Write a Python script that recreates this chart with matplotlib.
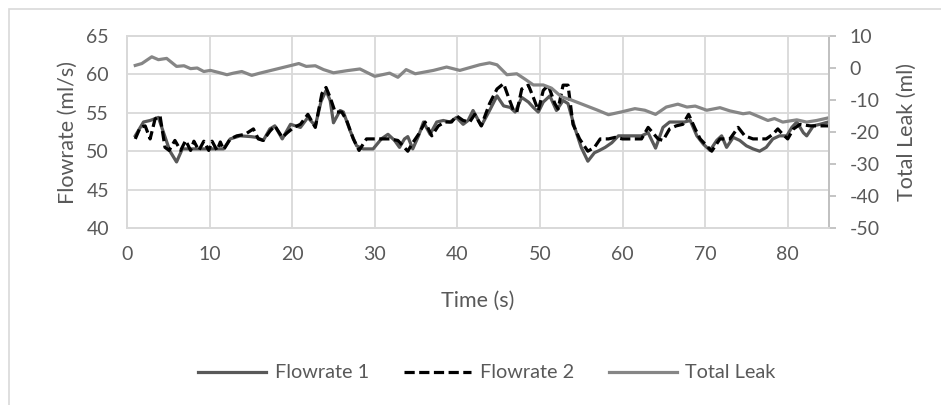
import matplotlib
matplotlib.use("Agg")
import matplotlib.pyplot as plt
from matplotlib.patches import Rectangle

# ---- data ----
t_flow1 = [1.0, 2.0, 2.8, 3.8, 4.4, 5.2, 6.0, 6.7, 7.5, 9.0, 10.5, 11.7, 12.5, 13.7,
           15.0, 15.7, 16.5, 17.3, 17.9, 18.8, 19.8, 21.0, 21.9, 22.8, 23.5, 24.1,
           24.6, 25.0, 25.8, 26.2, 27.0, 27.8, 28.6, 29.8, 30.8, 31.6, 32.4, 33.0,
           33.6, 34.0, 34.6, 35.3, 35.9, 36.7, 37.5, 38.3, 39.1, 39.9, 40.7, 41.3,
           41.9, 42.9, 43.9, 44.8, 45.6, 46.4, 47.0, 47.8, 48.6, 49.2, 49.8, 50.4,
           51.2, 52.0, 52.8, 53.4, 54.2, 55.0, 55.8, 56.6, 57.2, 57.9, 58.7, 59.5,
           60.7, 62.3, 63.1, 64.0, 64.9, 65.7, 66.7, 67.5, 68.2, 69.0, 69.8, 70.6,
           71.4, 72.0, 72.6, 73.4, 74.2, 75.0, 75.8, 76.6, 77.4, 78.2, 79.0, 79.9,
           80.5, 81.1, 81.9, 82.3, 83.1, 83.9, 84.9]
flow1 = [52.0, 53.8, 54.0, 54.4, 52.5, 50.0, 48.6, 50.3, 50.3, 50.3, 50.3, 50.3, 51.6, 52.0,
         51.9, 51.8, 51.4, 52.9, 53.3, 51.6, 53.5, 53.1, 54.4, 53.3, 56.5, 57.9,
         56.6, 53.7, 55.3, 55.1, 52.7, 50.7, 50.3, 50.3, 51.6, 52.2, 51.4, 50.5,
         51.6, 51.9, 50.3, 52.0, 53.8, 52.2, 53.8, 54.0, 53.8, 54.4, 53.5, 54.0,
         55.3, 53.3, 55.3, 57.2, 55.9, 55.7, 55.1, 57.0, 56.4, 55.7, 55.1, 56.4,
         57.2, 55.3, 56.6, 56.2, 53.1, 50.5, 48.7, 49.8, 50.1, 50.5, 51.1, 52.0,
         52.0, 52.0, 52.4, 50.4, 53.1, 53.8, 53.8, 53.8, 54.0, 52.0, 50.9, 50.1,
         51.4, 52.0, 50.5, 51.8, 51.4, 50.7, 50.3, 50.0, 50.5, 51.6, 52.0, 52.0,
         53.1, 53.8, 52.4, 52.0, 53.3, 53.5, 53.8]

t_flow2 = [1.0, 1.6, 2.2, 2.8, 3.4, 4.0, 4.6, 5.1, 5.8, 6.5, 7.1, 7.7, 8.1, 8.7, 9.3,
           9.9, 10.3, 10.9, 11.3, 11.7, 12.5, 13.3, 14.3, 15.3, 15.9, 16.5, 17.3,
           17.9, 18.8, 19.4, 20.2, 21.0, 21.9, 22.8, 23.6, 24.1, 24.6, 25.2, 26.0,
           26.6, 27.4, 28.1, 29.0, 29.8, 31.0, 31.8, 32.8, 33.4, 34.0, 34.6, 35.3,
           36.1, 36.9, 37.7, 38.5, 39.3, 39.9, 40.7, 41.5, 42.1, 42.9, 43.9, 44.8,
           45.6, 46.2, 46.8, 47.2, 47.8, 48.6, 49.2, 49.8, 50.4, 51.0, 51.8, 52.2,
           52.8, 53.4, 54.0, 54.8, 55.8, 56.6, 57.3, 58.3, 59.1, 60.0, 61.2, 62.3,
           63.1, 64.3, 64.9, 65.7, 66.5, 67.3, 68.0, 68.8, 69.4, 70.2, 70.8, 71.8,
           73.0, 74.0, 74.8, 75.8, 77.4, 78.2, 78.8, 79.4, 80.0, 80.7, 81.5, 82.7,
           83.9, 84.9]
flow2 = [51.6, 53.1, 53.3, 51.6, 54.2, 54.6, 50.5, 50.1, 51.4, 50.1, 51.4, 50.1, 51.3, 50.1, 51.3,
         50.1, 51.3, 50.1, 51.2, 50.2, 51.6, 52.0, 52.2, 52.9, 51.6, 51.4, 52.6,
         53.3, 51.8, 52.4, 53.1, 53.5, 54.8, 53.1, 57.5, 58.3, 57.0, 55.1, 55.1,
         54.0, 51.6, 50.1, 51.6, 51.6, 51.6, 51.6, 51.4, 50.7, 50.0, 51.1, 52.2,
         53.8, 52.0, 53.3, 53.8, 53.8, 54.6, 54.0, 53.8, 54.8, 53.3, 56.2, 58.1,
         58.8, 57.0, 55.3, 55.1, 58.1, 58.6, 57.0, 55.3, 57.9, 58.6, 56.2, 55.5,
         58.6, 58.6, 53.5, 51.6, 50.0, 50.5, 51.6, 51.6, 51.8, 51.6, 51.6, 51.6,
         53.1, 51.6, 51.4, 52.9, 53.3, 53.5, 54.8, 52.9, 51.6, 50.7, 50.0, 51.6,
         51.6, 53.1, 52.0, 51.6, 51.6, 52.2, 52.9, 52.2, 51.6, 52.9, 53.5, 53.3,
         53.3, 53.3]

t_leak = [1.0, 1.8, 3.0, 3.8, 4.8, 6.0, 6.9, 7.7, 8.5, 9.3, 10.1, 11.1, 12.1, 12.9,
          13.9, 15.1, 16.1, 20.2, 20.8, 21.7, 22.8, 23.8, 25.0, 26.6, 28.2, 30.0,
          31.8, 32.8, 33.8, 34.9, 37.1, 38.7, 40.3, 42.7, 43.9, 44.8, 46.0, 47.2,
          48.2, 49.2, 50.4, 51.4, 52.6, 53.8, 55.4, 57.0, 58.3, 59.9, 61.5, 62.7,
          64.0, 65.3, 66.7, 67.8, 68.8, 70.2, 71.8, 73.0, 74.6, 75.4, 76.6, 77.6,
          78.4, 79.4, 81.1, 82.3, 83.5, 84.9]
leak = [0.8, 1.4, 3.5, 2.6, 3.0, 0.5, 0.7, -0.2, 0.0, -1.1, -0.75, -1.4, -2.1, -1.6,
        -1.1, -2.3, -1.6, 1.0, 1.4, 0.5, 0.7, -0.5, -1.5, -0.85, -0.3, -2.6,
        -1.6, -2.9, -0.5, -1.8, -0.75, 0.3, -0.75, 1.0, 1.6, 1.0, -2.1, -1.8,
        -3.5, -5.3, -5.3, -6.3, -9.0, -10.0, -11.6, -13.2, -14.6, -13.7, -12.7, -13.2,
        -14.5, -12.2, -11.3, -12.2, -11.9, -13.2, -12.4, -13.4, -14.3, -14.0, -15.3, -16.4,
        -15.8, -16.9, -16.2, -16.9, -16.4, -15.6]

x_ticks = [0, 10, 20, 30, 40, 50, 60, 70, 80]
left_ticks = [40, 45, 50, 55, 60, 65]
right_ticks = [-50, -40, -30, -20, -10, 0, 10]

txt = "#595959"
grid = "#d9d9d9"
plt.rcParams["font.family"] = ["Lato", "DejaVu Sans"]
plt.rcParams["axes.unicode_minus"] = False

fig = plt.figure(figsize=(9.41, 4.05), dpi=100)
ax = fig.add_axes([127 / 941, 1 - 228 / 405, 702 / 941, 192 / 405])
ax2 = ax.twinx()

# outer chart border
fig.patches.append(Rectangle((9 / 941, -0.2), 2, 1.2 - 9 / 405, transform=fig.transFigure,
                             fill=False, edgecolor=grid, lw=1.2))

l1, = ax.plot(t_flow1, flow1, color="#595959", lw=2.3, label="Flowrate 1",
              solid_joinstyle="round", zorder=3)
l2, = ax.plot(t_flow2, flow2, color="black", lw=2.3, ls=(0, (3.2, 1.4)),
              label="Flowrate 2", zorder=4)
l3, = ax2.plot(t_leak, leak, color="#868686", lw=2.3, label="Total Leak",
               solid_joinstyle="round")

ax.set_xlim(0, 85)
ax.set_ylim(40, 65)
ax2.set_ylim(-50, 10)
ax.set_xticks(x_ticks)
ax.set_yticks(left_ticks)
ax2.set_yticks(right_ticks)

ax.grid(True, color=grid, lw=1.3)
ax.set_axisbelow(True)
for a in (ax, ax2):
    for s in a.spines.values():
        s.set_color(grid)
        s.set_linewidth(1.3)
ax2.spines["right"].set_color("#bfbfbf")

ax.tick_params(axis="both", length=0, labelsize=14, labelcolor=txt)
ax.tick_params(axis="y", pad=13)
ax.tick_params(axis="x", pad=13)
ax2.tick_params(axis="y", length=5, width=1.3, color="#bfbfbf", labelsize=14,
                labelcolor=txt, pad=10)

ax.set_xlabel("Time (s)", fontsize=15.5, color=txt)
ax.set_ylabel("Flowrate (ml/s)", fontsize=15.5, color=txt)
ax2.set_ylabel("Total Leak (ml)", fontsize=15.5, color=txt)
ax.xaxis.set_label_coords(0.5, -0.325)
ax.yaxis.set_label_coords(-0.07, 0.5)
ax2.yaxis.set_label_coords(1.096, 0.5)

leg = fig.legend(handles=[l1, l2, l3], loc="center", bbox_to_anchor=(487 / 941, 1 - 373 / 405),
                 ncol=3, frameon=False, fontsize=14.3, handlelength=3.4,
                 handletextpad=0.45, columnspacing=1.75, labelcolor=txt)

fig.savefig("out.png", dpi=100)
